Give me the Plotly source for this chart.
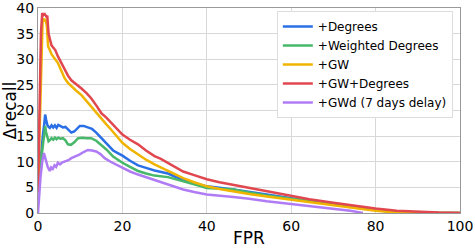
import plotly.graph_objects as go

names = ["+Degrees", "+Weighted Degrees", "+GW", "+GW+Degrees", "+GWd (7 days delay)"]
colors = ["#2b6fe6", "#47b86a", "#f0b400", "#e0474f", "#b07cf5"]

deg_x = [0, 0.4, 0.8, 1.2, 1.5, 1.7, 1.9, 2.2, 2.5, 2.8, 3.2, 3.6, 4.0, 4.4, 4.8, 5.3, 5.9, 6.5, 7.2, 7.9, 8.6, 9.3, 9.9, 10.8, 11.8, 12.8, 13.8, 14.8, 15.8, 16.8, 17.8, 18.9, 20, 21.8, 23.7, 25.6, 27.6, 30.8, 34.4, 37, 40, 46.3, 50, 54.2, 60, 64.3, 70, 75, 80, 84, 88, 100]
deg_y = [5, 9, 13, 15.5, 17.5, 19.2, 18.3, 17.2, 16.8, 16.6, 17.1, 16.7, 17.1, 16.6, 17.2, 16.9, 16.7, 16.8, 16.2, 15.7, 15.9, 16.6, 17.0, 17.0, 16.7, 16.4, 15.7, 14.8, 13.8, 13.0, 12.2, 11.7, 11.2, 10.2, 9.3, 8.8, 8.3, 7.7, 6.4, 5.8, 5.2, 4.6, 4.1, 3.6, 2.9, 2.3, 1.7, 1.1, 0.6, 0.25, 0.05, 0]

wdeg_x = [0, 0.4, 0.8, 1.2, 1.5, 1.7, 1.9, 2.2, 2.5, 2.8, 3.2, 3.6, 4.0, 4.4, 4.8, 5.3, 5.9, 6.5, 7.1, 7.8, 8.6, 9.5, 10.5, 11.5, 12.6, 13.8, 15, 16.2, 17.8, 18.9, 20, 21.8, 23.7, 25.6, 27.6, 30.8, 34.4, 37, 40, 46.3, 50, 54.2, 60, 64.3, 70, 75, 80, 84, 88, 100]
wdeg_y = [5, 8, 11, 13.5, 15.5, 17, 15.8, 14.6, 14.0, 14.2, 14.6, 14.3, 14.7, 14.4, 14.7, 14.5, 14.6, 14.2, 13.4, 13.3, 13.8, 14.6, 14.7, 14.6, 14.6, 14.1, 13.3, 12.4, 11.0, 10.4, 9.8, 9.0, 8.2, 7.7, 7.3, 7.0, 6.1, 5.6, 4.9, 4.6, 4.0, 3.4, 2.8, 2.4, 1.8, 1.1, 0.55, 0.2, 0.05, 0]

gw_x = [0, 0.4, 0.8, 1.1, 1.4, 1.8, 2.1, 2.4, 2.8, 3.2, 3.8, 4.7, 5.5, 6.3, 7.1, 7.9, 9.0, 10.3, 11.5, 12.6, 13.8, 15, 16.2, 17.4, 18.7, 20, 21.8, 23.7, 25.6, 27.6, 30.8, 34.4, 37, 40, 43, 46.3, 50, 54.2, 60, 64.3, 70, 75, 80, 84, 88, 92, 100]
gw_y = [4, 18, 33, 38, 37.5, 37.8, 36.5, 32.5, 31.8, 31, 30.3, 29.3, 27.8, 26.3, 25.4, 24.7, 23.9, 23.0, 21.8, 20.7, 19.6, 18.5, 17.3, 16.2, 14.9, 13.7, 12.5, 11.4, 10.4, 9.5, 8.2, 6.8, 6.0, 5.2, 4.7, 4.2, 3.7, 3.2, 2.6, 2.1, 1.5, 0.9, 0.45, 0.15, 0.03, 0, 0]

gwdeg_x = [0, 0.3, 0.7, 1.0, 1.3, 1.6, 2.0, 2.2, 2.5, 2.8, 3.2, 3.6, 4.1, 4.7, 5.5, 6.3, 7.1, 7.9, 9.0, 10.3, 11.5, 12.6, 13.8, 15, 16.2, 17.4, 18.7, 20, 21.8, 23.7, 25.6, 27.6, 29, 30.8, 34.4, 37, 40, 43, 46.3, 50, 54.2, 60, 64.3, 70, 75, 80, 85, 90, 95, 100]
gwdeg_y = [4, 20, 35, 39, 38.6, 38.8, 38.3, 38.5, 35, 34, 32.7, 32.3, 31.8, 30.6, 29.3, 27.8, 26.8, 25.9, 25.2, 24.3, 23.4, 22.4, 21.0, 19.5, 18.6, 17.6, 16.4, 15.3, 14.3, 13.4, 12.2, 11.1, 10.6, 9.8, 8.1, 7.4, 6.6, 6.0, 5.5, 4.9, 4.2, 3.3, 2.7, 2.0, 1.4, 0.9, 0.45, 0.2, 0.08, 0]

gwd_x = [0, 0.3, 0.6, 1.0, 1.4, 1.7, 2.0, 2.3, 2.6, 2.8, 3.1, 3.5, 3.9, 4.3, 4.7, 5.2, 5.8, 6.5, 7.2, 7.9, 8.8, 9.8, 10.8, 11.8, 12.8, 13.8, 14.8, 15.8, 17.2, 18.6, 20, 21.8, 23.7, 25.6, 27.6, 30.8, 34.4, 37, 40, 46.3, 50, 54.2, 60, 64.3, 70, 74, 77]
gwd_y = [0, 4, 7, 10, 11.7, 10.8, 9.8, 9.0, 8.5, 8.2, 8.9, 8.6, 9.3, 9.0, 9.8, 9.5, 9.9, 10.1, 10.3, 10.7, 11.0, 11.4, 11.9, 12.3, 12.2, 12.0, 11.5, 10.7, 10.0, 9.4, 8.8, 8.1, 7.5, 7.0, 6.4, 5.5, 4.6, 4.1, 3.6, 3.1, 2.8, 2.3, 1.8, 1.4, 0.9, 0.45, 0]

x_ticks = [0, 20, 40, 60, 80, 100]
y_ticks = [0, 5, 10, 15, 20, 25, 30, 35, 40]

series = [(deg_x, deg_y), (wdeg_x, wdeg_y), (gw_x, gw_y), (gwdeg_x, gwdeg_y), (gwd_x, gwd_y)]

fig = go.Figure()
for (xs, ys), name, c in zip(series, names, colors):
    fig.add_trace(go.Scatter(x=xs, y=ys, mode="lines", name=name,
                             line=dict(color=c, width=2.5)))

font = "DejaVu Sans, sans-serif"
fig.update_layout(
    width=475, height=248,
    margin=dict(l=38, r=15, t=8, b=35),
    paper_bgcolor="white", plot_bgcolor="white",
    font=dict(family=font, size=14, color="#000"),
    legend=dict(x=0.983, y=0.985, xanchor="right", yanchor="top",
                bgcolor="white", bordercolor="#dddddd", borderwidth=1,
                font=dict(size=12), itemwidth=30, tracegroupgap=0),
    xaxis=dict(range=[0, 100], tickvals=x_ticks, showgrid=True, gridcolor="#d8d8d8",
               gridwidth=1, zeroline=False, showline=True, linecolor="#999999",
               mirror=True, ticks="", automargin=False, ticklabeloverflow="allow",
               title=dict(text="FPR", standoff=0), tickfont=dict(size=14)),
    yaxis=dict(range=[0, 40], tickvals=y_ticks, showgrid=True, gridcolor="#d8d8d8",
               gridwidth=1, zeroline=False, showline=True, linecolor="#999999",
               mirror=True, ticks="", automargin=False, ticklabeloverflow="allow",
               title=dict(text="Δrecall", standoff=0), tickfont=dict(size=14)),
)

fig.write_html("out.html", config={"displayModeBar": False},
               post_script="document.body.style.margin='0';")
